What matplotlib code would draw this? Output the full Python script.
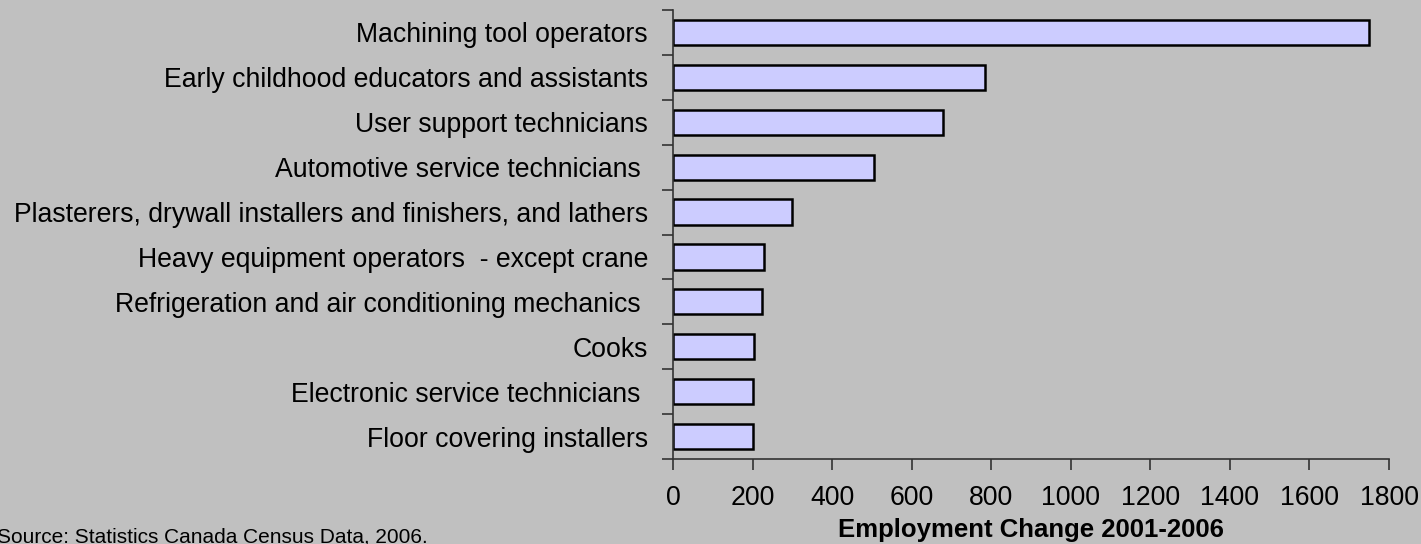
import numpy as np
import matplotlib
matplotlib.use("Agg")
import matplotlib.pyplot as plt

plt.rcParams['font.family'] = ['Liberation Sans', 'DejaVu Sans']

occupations = [
    "Machining tool operators",
    "Early childhood educators and assistants",
    "User support technicians",
    "Automotive service technicians ",
    "Plasterers, drywall installers and finishers, and lathers",
    "Heavy equipment operators  - except crane",
    "Refrigeration and air conditioning mechanics ",
    "Cooks",
    "Electronic service technicians ",
    "Floor covering installers",
]
change = [1750, 785, 680, 505, 300, 230, 224, 203, 200, 200]
xticks = [0, 200, 400, 600, 800, 1000, 1200, 1400, 1600, 1800]

bg = "#c0c0c0"
fig = plt.figure(figsize=(14.21, 5.44), dpi=100, facecolor=bg)
ax = fig.add_axes([0.4736, 0.1562, 0.9775 - 0.4736, 0.9816 - 0.1562])
ax.set_facecolor(bg)

y = np.arange(len(occupations))
ax.barh(y, change, height=0.56, color="#ccccff", edgecolor="black", linewidth=1.8)

ax.set_xlim(0, 1800)
ax.set_ylim(len(occupations) - 0.5, -0.5)
ax.set_xticks(xticks)
ax.set_xticklabels([str(v) for v in xticks], fontsize=19.2)
ax.set_yticks(y)
ax.set_yticklabels(occupations, fontsize=19.2)
ax.tick_params(axis='y', length=0, pad=18)
# category boundary ticks
ax.set_yticks(np.arange(len(occupations) + 1) - 0.5, minor=True)
ax.tick_params(axis='y', which='minor', length=8, color="#333333", width=1.2)
ax.tick_params(axis='x', length=8, color="#333333", width=1.2, pad=11)

for s in ['top', 'right']:
    ax.spines[s].set_visible(False)
for s in ['left', 'bottom']:
    ax.spines[s].set_color("#333333")
    ax.spines[s].set_linewidth(1.2)

ax.set_xlabel("Employment Change 2001-2006", fontsize=18.5, fontweight='bold', labelpad=5)

fig.text(-0.002, 0.012, "Source: Statistics Canada Census Data, 2006.", fontsize=15, ha='left', va='center')

fig.savefig("out.png", dpi=100, facecolor=bg)
